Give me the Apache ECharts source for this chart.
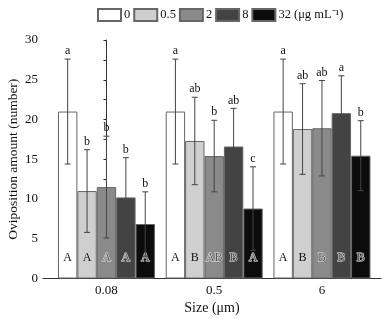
<!DOCTYPE html>
<html>
<head>
<meta charset="utf-8">
<script src="https://cdn.jsdelivr.net/npm/echarts@6/dist/echarts.min.js"></script>
<style>
  html, body { margin: 0; padding: 0; background: #fff; }
  #box { width: 389px; height: 319px; }
</style>
</head>
<body>
<div id="box"></div>
<script>
// 数据
var sizes = ['0.08', '0.5', '6'];
var concs = ['0', '0.5', '2', '8', '32'];
var colors = ['#ffffff', '#cfcfcf', '#8a8a8a', '#434343', '#0c0c0c'];

var mean0 = [21.0, 21.0, 21.0];
var mean05 = [11.0, 17.3, 18.8];
var mean2 = [11.5, 15.4, 18.9];
var mean8 = [10.2, 16.6, 20.8];
var mean32 = [6.85, 8.8, 15.45];

var err0 = [6.6, 6.6, 6.6];
var err05 = [5.2, 5.5, 5.7];
var err2 = [6.4, 4.5, 6.0];
var err8 = [5.0, 4.8, 4.7];
var err32 = [4.05, 5.25, 4.4];

var topLetters0 = ['a', 'a', 'a'];
var topLetters05 = ['b', 'ab', 'ab'];
var topLetters2 = ['b', 'b', 'ab'];
var topLetters8 = ['b', 'ab', 'a'];
var topLetters32 = ['b', 'c', 'b'];

var botLetters0 = ['A', 'A', 'A'];
var botLetters05 = ['A', 'B', 'B'];
var botLetters2 = ['A', 'AB', 'B'];
var botLetters8 = ['A', 'B', 'B'];
var botLetters32 = ['A', 'A', 'B'];

var means = [mean0, mean05, mean2, mean8, mean32];
var errs = [err0, err05, err2, err8, err32];
var topLetters = [topLetters0, topLetters05, topLetters2, topLetters8, topLetters32];
var botLetters = [botLetters0, botLetters05, botLetters2, botLetters8, botLetters32];

var barW = 19.4;
var font = 'Liberation Serif';

var chart = echarts.init(document.getElementById('box'));

var series = [];
concs.forEach(function(c, i) {
  var dark = i >= 2;
  series.push({
    name: c,
    type: 'bar',
    barWidth: barW,
    barGap: '0%',
    itemStyle: { color: colors[i], borderColor: '#666', borderWidth: 1 },
    label: {
      show: true,
      position: 'insideBottom',
      distance: 15,
      fontFamily: font,
      fontSize: 12,
      color: dark ? '#555' : '#111',
      textBorderColor: dark ? '#e8e8e8' : 'transparent',
      textBorderWidth: dark ? 1 : 0,
      formatter: function(p) { return botLetters[i][p.dataIndex]; }
    },
    data: means[i].map(function(v, k) { return [k, v]; })
  });
});
// 误差线 + 显著性字母
concs.forEach(function(c, i) {
  series.push({
    name: 'err' + c,
    type: 'custom',
    z: 5,
    renderItem: function(params, api) {
      var k = api.value(0);
      var m = api.value(1);
      var e = api.value(2);
      var off = (i - 2) * barW;
      var top = api.coord([k, m + e]);
      var bot = api.coord([k, m - e]);
      var x = top[0] + off;
      var st = { stroke: '#444', lineWidth: 1 };
      return {
        type: 'group',
        children: [
          { type: 'line', shape: { x1: x, y1: top[1], x2: x, y2: bot[1] }, style: st },
          { type: 'line', shape: { x1: x - 3, y1: top[1], x2: x + 3, y2: top[1] }, style: st },
          { type: 'line', shape: { x1: x - 3, y1: bot[1], x2: x + 3, y2: bot[1] }, style: st },
          { type: 'text', x: x, y: top[1] - 2,
            style: { text: topLetters[i][k], fill: '#111', font: '12px "' + font + '"', align: 'center', verticalAlign: 'bottom' } }
        ]
      };
    },
    data: means[i].map(function(v, k) { return [k, v, errs[i][k]]; })
  });
});

var option = {
  backgroundColor: '#fff',
  animation: false,
  textStyle: { fontFamily: font },
  legend: {
    data: concs,
    left: 97,
    top: 8,
    padding: 0,
    itemWidth: 23,
    itemHeight: 12,
    itemGap: 3,
    icon: 'rect',
    textStyle: { fontFamily: font, fontSize: 12.5, color: '#111', padding: [0, 0, 0, -2] },
    formatter: function(name) {
      return name === '32' ? '32 (μg mL⁻¹)' : name;
    }
  },
  grid: { left: 43, right: 8, top: 40, bottom: 40.5, outerBoundsMode: 'none', containLabel: false },
  xAxis: {
    type: 'value',
    min: -0.589,
    max: 2.548,
    name: 'Size (μm)',
    nameLocation: 'middle',
    nameGap: 23,
    nameMoveOverlap: false,
    nameTextStyle: { fontFamily: font, fontSize: 14, color: '#111' },
    splitLine: { show: false },
    axisTick: { show: false },
    axisLine: { lineStyle: { color: '#333' } },
    axisLabel: {
      customValues: [0, 1, 2],
      fontFamily: font,
      fontSize: 13,
      color: '#111',
      margin: 6,
      formatter: function(v) { return sizes[Math.round(v)]; }
    }
  },
  yAxis: {
    type: 'value',
    min: 0,
    max: 30,
    interval: 5,
    name: 'Oviposition amount (number)',
    nameLocation: 'middle',
    nameGap: 23,
    nameMoveOverlap: false,
    nameTextStyle: { fontFamily: font, fontSize: 13.5, color: '#111' },
    splitLine: { show: false },
    axisLine: { show: true, lineStyle: { color: '#333' } },
    axisTick: { show: true, length: 3, lineStyle: { color: '#333' } },
    minorTick: { show: true, splitNumber: 2, length: 3, lineStyle: { color: '#333' } },
    axisLabel: { fontFamily: font, fontSize: 13, color: '#111', margin: 5 }
  },
  series: series
};
chart.setOption(option);
</script>
</body>
</html>
